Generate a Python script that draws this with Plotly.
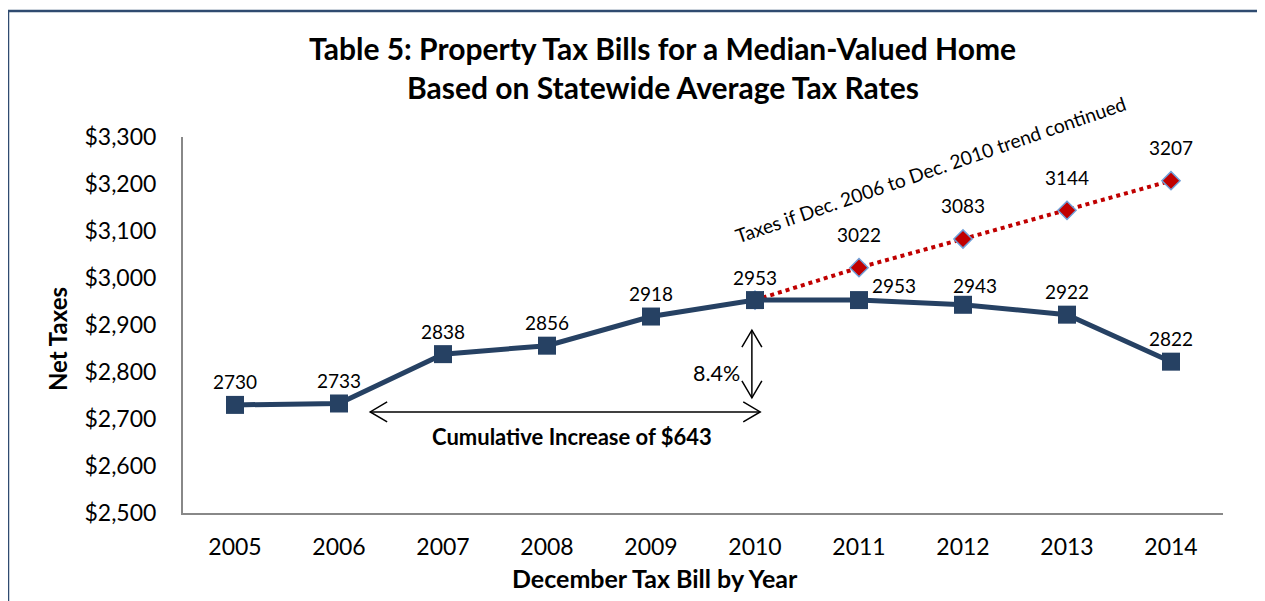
import plotly.graph_objects as go

# ---- data ----
years = [2005, 2006, 2007, 2008, 2009, 2010, 2011, 2012, 2013, 2014]
net_taxes = [2730, 2733, 2838, 2856, 2918, 2953, 2953, 2943, 2922, 2822]
trend_years = [2010, 2011, 2012, 2013, 2014]
trend_taxes = [2953, 3022, 3083, 3144, 3207]
y_ticks = [2500, 2600, 2700, 2800, 2900, 3000, 3100, 3200, 3300]
y_tick_labels = ["$2,500", "$2,600", "$2,700", "$2,800", "$2,900",
                 "$3,000", "$3,100", "$3,200", "$3,300"]
title_lines = ["Table 5: Property Tax Bills for a Median-Valued Home",
               "Based on Statewide Average Tax Rates"]

FONT = "Lato, Carlito, Calibri, sans-serif"
NAVY = "#264163"
RED = "#C00000"

fig = go.Figure()

fig.add_trace(go.Scatter(
    x=trend_years, y=trend_taxes, mode="lines+markers",
    line=dict(color=RED, width=4, dash="dot"),
    marker=dict(symbol="diamond", size=14, color=RED,
                line=dict(color="#6f9fd8", width=1.5)),
    hoverinfo="skip", showlegend=False))

fig.add_trace(go.Scatter(
    x=years, y=net_taxes, mode="lines+markers",
    line=dict(color=NAVY, width=5),
    marker=dict(symbol="square", size=18, color=NAVY),
    hoverinfo="skip", showlegend=False))


def note(**kw):
    d = dict(showarrow=False, xanchor="center", yanchor="middle")
    d.update(kw)
    return d


annotations = []
# data labels for main series
label_shift = {2011: (35, 15), 2012: (12, 19)}
for yr, v in zip(years, net_taxes):
    xs, ys = label_shift.get(yr, (0, 23))
    annotations.append(note(x=yr, y=v, text=str(v), xshift=xs, yshift=ys,
                            font=dict(family=FONT, size=19, color="black")))
# data labels for trend series (skip the shared 2010 point)
for yr, v in zip(trend_years[1:], trend_taxes[1:]):
    annotations.append(note(x=yr, y=v, text=str(v), yshift=33,
                            font=dict(family=FONT, size=19, color="black")))

# title (plot area: 1040 x 376 px)
annotations.append(note(xref="paper", yref="paper", x=0.4615, y=(513 - 48) / 376,
                        text="<b>%s</b>" % title_lines[0],
                        font=dict(family=FONT, size=30, color="black")))
annotations.append(note(xref="paper", yref="paper", x=0.4615, y=(513 - 87) / 376,
                        text="<b>%s</b>" % title_lines[1],
                        font=dict(family=FONT, size=30, color="black")))
# axis titles
annotations.append(note(xref="paper", yref="paper", x=(57 - 183) / 1040, y=(513 - 339) / 376,
                        text="<b>Net Taxes</b>", textangle=-90,
                        font=dict(family=FONT, size=24, color="black")))
annotations.append(note(xref="paper", yref="paper", x=(655 - 183) / 1040, y=(513 - 578) / 376,
                        text="<b>December Tax Bill by Year</b>",
                        font=dict(family=FONT, size=25, color="black")))
# text notes
annotations.append(note(x=2011.69, y=3230, text="Taxes if Dec. 2006 to Dec. 2010 trend continued",
                        textangle=-19,
                        font=dict(family=FONT, size=19.3, color="black")))
annotations.append(note(x=2009.63, y=2798, text="8.4%",
                        font=dict(family=FONT, size=21.5, color="black")))
annotations.append(note(x=2008.24, y=2662, text="<b>Cumulative Increase of $643</b>",
                        font=dict(family=FONT, size=22, color="black")))

shapes = []
# outer frame
shapes.append(dict(type="rect", xref="paper", yref="paper",
                   x0=(8 - 183) / 1040, x1=1.2, y0=-0.4, y1=(513 - 11) / 376,
                   line=dict(color="#2f4b70", width=2.5), fillcolor="rgba(0,0,0,0)",
                   layer="below"))
# horizontal double arrow
hx0, hx1, hy = 2006.30, 2010.05, 2715
hdx, hdy = 0.163, 21.3
shapes.append(dict(type="line", x0=hx0, x1=hx1, y0=hy, y1=hy,
                   line=dict(color="black", width=1.5)))
shapes.append(dict(type="path",
                   path=f"M {hx0+hdx},{hy+hdy} L {hx0},{hy} L {hx0+hdx},{hy-hdy}",
                   line=dict(color="black", width=1.5)))
shapes.append(dict(type="path",
                   path=f"M {hx1-hdx},{hy+hdy} L {hx1},{hy} L {hx1-hdx},{hy-hdy}",
                   line=dict(color="black", width=1.5)))
# vertical double arrow
vx, vy0, vy1 = 2009.97, 2745, 2889
vdx, vdy = 0.096, 36
shapes.append(dict(type="line", x0=vx, x1=vx, y0=vy0, y1=vy1,
                   line=dict(color="black", width=1.5)))
shapes.append(dict(type="path",
                   path=f"M {vx-vdx},{vy1-vdy} L {vx},{vy1} L {vx+vdx},{vy1-vdy}",
                   line=dict(color="black", width=1.5)))
shapes.append(dict(type="path",
                   path=f"M {vx-vdx},{vy0+vdy} L {vx},{vy0} L {vx+vdx},{vy0+vdy}",
                   line=dict(color="black", width=1.5)))

fig.update_layout(
    width=1257, height=593,
    margin=dict(l=175, r=42, t=129, b=88),
    paper_bgcolor="white", plot_bgcolor="white",
    annotations=annotations, shapes=shapes,
    xaxis=dict(range=[2004.5, 2014.5], tickmode="array", tickvals=years,
               ticktext=[str(y) for y in years], showgrid=False, zeroline=False,
               showline=True, linecolor="#888888", linewidth=2, ticks="",
               ticklabelstandoff=12,
               tickfont=dict(family=FONT, size=23, color="black")),
    yaxis=dict(range=[2500, 3300], tickmode="array", tickvals=y_ticks,
               ticktext=y_tick_labels, showgrid=False, zeroline=False,
               showline=True, linecolor="#888888", linewidth=2, ticks="",
               ticklabelstandoff=20,
               tickfont=dict(family=FONT, size=23, color="black")),
)

fig.write_html("out.html")
